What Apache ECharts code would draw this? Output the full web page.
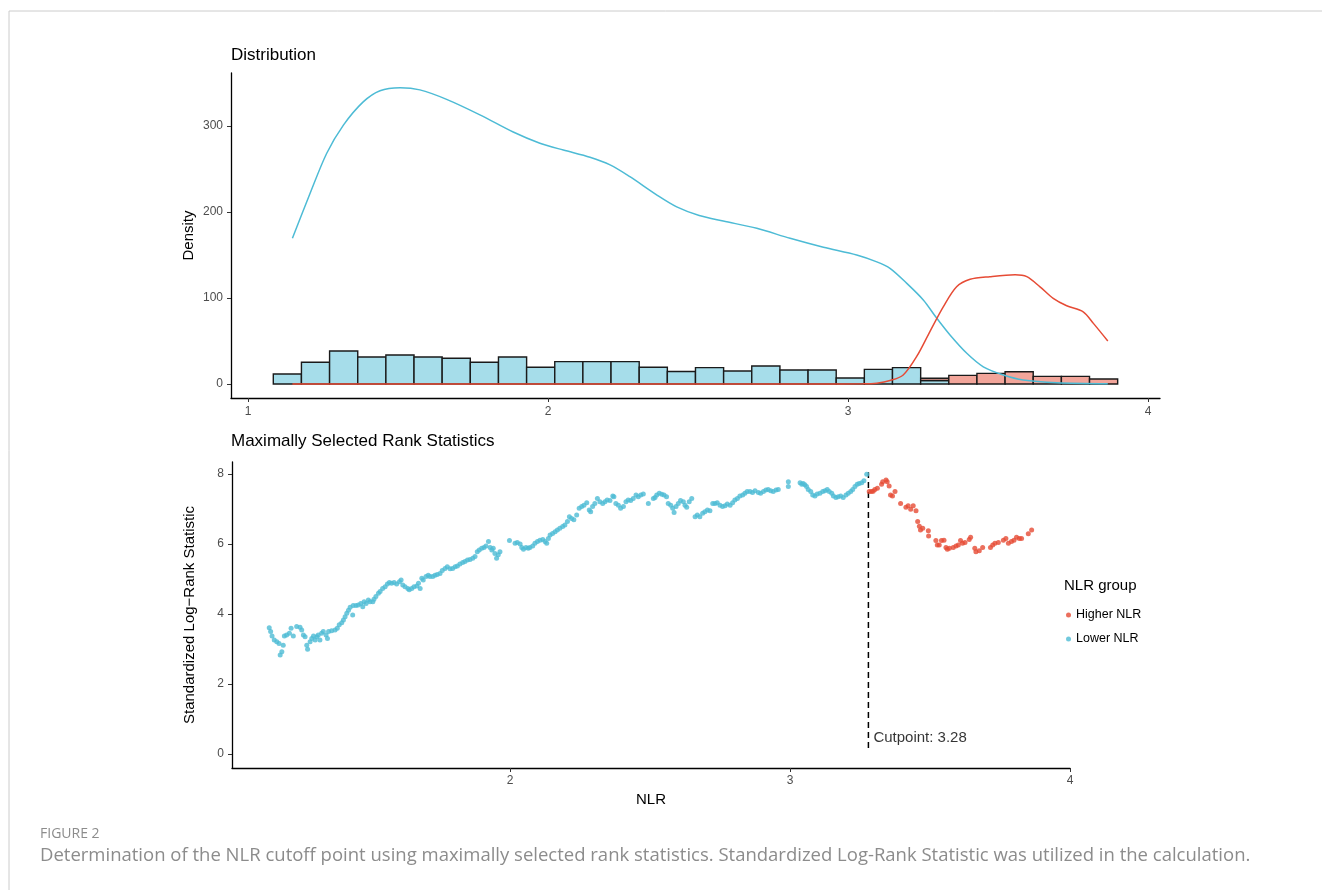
<!DOCTYPE html>
<html>
<head>
<meta charset="utf-8">
<script src="https://cdn.jsdelivr.net/npm/echarts@6/dist/echarts.min.js"></script>
<style>
html,body{margin:0;padding:0;background:#fff;}
#chart{width:1322px;height:890px;}
</style>
</head>
<body>
<div id="chart"></div>
<script>
// ---------- DATA ----------
const binEdges = [1.0843,1.1781,1.2719,1.3658,1.4596,1.5534,1.6472,1.7410,1.8349,1.9287,2.0225,2.1163,2.2101,2.3040,2.3978,2.4916,2.5854,2.6792,2.7731,2.8669,2.9607,3.0545,3.1483,3.2422,3.3360,3.4298,3.5236,3.6174,3.7113,3.8051,3.8989];
const lowerHist  = [11.6,25.2,38.4,31.4,33.7,31.4,29.9,25.2,31.4,19.4,26,26,26,19.4,14.5,19,15.1,20.9,16.3,16.3,7,17,19,4,0,0,0,0,0,0];
const higherHist = [0,0,0,0,0,0,0,0,0,0,0,0,0,0,0,0,0,0,0,0,0,0,0,2.6,10,12.4,14.3,8.9,8.9,5.8];

const lowerDensity = [[1.148,169.4],[1.207,221.7],[1.262,268],[1.318,301],[1.384,328],[1.44,341],[1.507,344.5],[1.573,342],[1.662,331],[1.773,313],[1.884,293],[1.973,280],[2.051,272],[2.14,263.6],[2.207,254.7],[2.273,241],[2.362,220],[2.429,206],[2.504,196],[2.584,189.5],[2.696,181],[2.807,169.4],[2.918,159],[3.029,150],[3.096,142],[3.14,134.5],[3.196,117],[3.251,97.7],[3.296,76.4],[3.34,57],[3.396,35.7],[3.451,20],[3.518,10.5],[3.584,4.7],[3.696,1.5],[3.866,0.3]];
const higherDensity = [[1.148,0],[2.0,0],[2.9,0],[3.05,0.2],[3.096,1],[3.14,4],[3.184,10.5],[3.229,32],[3.273,61],[3.318,90],[3.362,113],[3.407,121.7],[3.473,124.8],[3.557,127],[3.596,124.8],[3.64,113],[3.684,99.6],[3.729,91],[3.784,84],[3.818,70.5],[3.866,50]];

const lowerStat = [[1.140,3.61],[1.145,3.50],[1.150,3.37],[1.158,3.26],[1.167,3.21],[1.175,3.16],[1.179,2.83],[1.185,2.92],[1.190,3.11],[1.194,3.37],[1.202,3.40],[1.212,3.45],[1.218,3.59],[1.226,3.37],[1.238,3.64],[1.250,3.62],[1.256,3.54],[1.262,3.40],[1.268,3.35],[1.274,3.11],[1.277,2.99],[1.286,3.21],[1.292,3.30],[1.298,3.37],[1.304,3.26],[1.310,3.35],[1.315,3.40],[1.321,3.26],[1.327,3.45],[1.333,3.50],[1.343,3.40],[1.348,3.30],[1.352,3.50],[1.363,3.52],[1.375,3.54],[1.383,3.59],[1.390,3.69],[1.399,3.75],[1.405,3.83],[1.411,3.92],[1.417,4.02],[1.423,4.11],[1.429,4.19],[1.438,3.97],[1.440,4.24],[1.450,4.24],[1.458,4.26],[1.467,4.30],[1.474,4.21],[1.479,4.35],[1.486,4.30],[1.494,4.40],[1.500,4.35],[1.510,4.35],[1.514,4.42],[1.521,4.50],[1.530,4.59],[1.536,4.64],[1.545,4.73],[1.554,4.78],[1.562,4.86],[1.569,4.90],[1.577,4.88],[1.586,4.90],[1.595,4.86],[1.605,4.92],[1.611,4.97],[1.617,4.83],[1.625,4.78],[1.635,4.73],[1.640,4.69],[1.649,4.73],[1.657,4.78],[1.667,4.80],[1.673,4.88],[1.679,4.73],[1.685,5.02],[1.690,4.97],[1.700,5.07],[1.708,5.11],[1.714,5.07],[1.724,5.07],[1.732,5.11],[1.740,5.13],[1.750,5.16],[1.758,5.24],[1.768,5.30],[1.776,5.35],[1.786,5.29],[1.795,5.30],[1.804,5.35],[1.812,5.37],[1.821,5.43],[1.831,5.47],[1.839,5.50],[1.848,5.54],[1.857,5.56],[1.867,5.59],[1.875,5.64],[1.883,5.78],[1.890,5.83],[1.899,5.88],[1.907,5.90],[1.914,5.94],[1.923,6.07],[1.929,5.90],[1.935,5.83],[1.940,5.88],[1.946,5.73],[1.952,5.59],[1.958,5.69],[1.964,5.78],[1.998,6.10],[2.018,6.02],[2.026,6.04],[2.036,6.00],[2.042,5.90],[2.048,5.85],[2.057,5.90],[2.065,5.88],[2.071,5.90],[2.081,5.94],[2.089,6.02],[2.098,6.07],[2.107,6.11],[2.117,6.13],[2.125,6.07],[2.131,6.02],[2.137,6.16],[2.143,6.26],[2.152,6.30],[2.161,6.35],[2.169,6.40],[2.178,6.45],[2.188,6.50],[2.196,6.54],[2.205,6.64],[2.212,6.78],[2.220,6.73],[2.228,6.69],[2.238,6.83],[2.247,7.02],[2.256,7.07],[2.264,7.11],[2.274,7.18],[2.283,6.97],[2.288,6.92],[2.295,7.07],[2.303,7.16],[2.312,7.30],[2.321,7.21],[2.331,7.16],[2.339,7.21],[2.347,7.26],[2.357,7.24],[2.367,7.37],[2.371,7.35],[2.378,7.16],[2.387,7.11],[2.395,7.02],[2.405,7.07],[2.414,7.21],[2.422,7.26],[2.431,7.24],[2.440,7.30],[2.450,7.40],[2.458,7.35],[2.467,7.40],[2.476,7.43],[2.494,7.16],[2.512,7.30],[2.518,7.33],[2.524,7.40],[2.533,7.45],[2.542,7.42],[2.550,7.40],[2.559,7.35],[2.565,7.16],[2.574,7.11],[2.581,7.02],[2.586,6.90],[2.593,7.07],[2.601,7.16],[2.609,7.24],[2.619,7.21],[2.625,7.11],[2.631,7.05],[2.640,7.21],[2.649,7.30],[2.661,6.78],[2.669,6.83],[2.678,6.78],[2.688,6.88],[2.696,6.92],[2.705,6.97],[2.714,6.95],[2.724,7.16],[2.732,7.16],[2.740,7.18],[2.750,7.11],[2.759,7.07],[2.768,7.09],[2.776,7.14],[2.786,7.11],[2.795,7.18],[2.803,7.26],[2.812,7.30],[2.821,7.37],[2.831,7.40],[2.839,7.45],[2.847,7.50],[2.857,7.50],[2.866,7.47],[2.875,7.52],[2.887,7.47],[2.895,7.45],[2.905,7.50],[2.914,7.54],[2.922,7.56],[2.931,7.52],[2.940,7.50],[2.950,7.54],[2.958,7.56],[2.994,7.78],[2.994,7.64],[3.036,7.75],[3.042,7.71],[3.047,7.73],[3.053,7.69],[3.059,7.64],[3.065,7.56],[3.074,7.50],[3.081,7.40],[3.089,7.37],[3.097,7.43],[3.107,7.45],[3.117,7.50],[3.125,7.52],[3.133,7.56],[3.140,7.50],[3.149,7.45],[3.155,7.37],[3.164,7.33],[3.172,7.35],[3.181,7.37],[3.190,7.33],[3.200,7.40],[3.208,7.45],[3.217,7.50],[3.224,7.56],[3.232,7.64],[3.240,7.71],[3.247,7.73],[3.256,7.75],[3.264,7.81],[3.274,7.99]];
const higherStat = [[3.283,7.50],[3.291,7.50],[3.297,7.51],[3.303,7.56],[3.312,7.59],[3.327,7.71],[3.331,7.78],[3.343,7.83],[3.347,7.78],[3.354,7.66],[3.359,7.40],[3.366,7.37],[3.375,7.50],[3.395,7.16],[3.414,7.05],[3.422,7.09],[3.431,6.99],[3.440,7.09],[3.450,6.95],[3.456,6.64],[3.462,6.51],[3.466,6.40],[3.474,6.45],[3.494,6.38],[3.495,6.23],[3.521,6.10],[3.526,5.97],[3.533,5.97],[3.541,6.10],[3.550,6.11],[3.557,5.90],[3.562,5.85],[3.569,5.88],[3.583,5.90],[3.593,5.94],[3.601,5.97],[3.609,6.10],[3.616,6.02],[3.625,6.04],[3.640,6.13],[3.645,6.19],[3.660,5.88],[3.664,5.78],[3.676,5.81],[3.688,5.90],[3.716,5.90],[3.724,5.97],[3.732,6.02],[3.744,6.04],[3.762,6.11],[3.771,6.16],[3.780,6.02],[3.791,6.07],[3.800,6.11],[3.809,6.19],[3.819,6.16],[3.827,6.16],[3.851,6.29],[3.863,6.40]];

const cutpoint = 3.28;
const cutLine = [[3.28,0.17],[3.28,8.05]];
const topXTicks = [1,2,3,4];
const topYTicks = [0,100,200,300];
const botXTicks = [2,3,4];
const botYTicks = [0,2,4,6,8];

// ---------- CHART ----------
const BLUE = '#4DBBD5', RED = '#E64B35';
const FONT = '"Liberation Sans", Arial, sans-serif';
const CAPFONT = '"Open Sans", sans-serif';

const lowerBars = [], higherBars = [];
for (let i = 0; i < lowerHist.length; i++) {
  if (lowerHist[i] > 0) lowerBars.push([binEdges[i], binEdges[i+1], 0, lowerHist[i]]);
  if (higherHist[i] > 0) higherBars.push([binEdges[i], binEdges[i+1], lowerHist[i], lowerHist[i] + higherHist[i]]);
}
function barRenderer(fill) {
  return function (params, api) {
    const p0 = api.coord([api.value(0), api.value(3)]);
    const p1 = api.coord([api.value(1), api.value(2)]);
    return {
      type: 'rect',
      shape: { x: p0[0], y: p0[1], width: p1[0] - p0[0], height: p1[1] - p0[1] },
      style: { fill: fill, stroke: '#1a1a1a', lineWidth: 1.4 }
    };
  };
}

const axisLineStyle = { show: true, onZero: false, lineStyle: { color: '#000', width: 1.3 } };
const tickStyle = (vals) => ({ show: true, customValues: vals, length: 4, lineStyle: { color: '#333', width: 1 } });
const labelStyle = (vals, margin) => ({ customValues: vals, color: '#4D4D4D', fontSize: 12, fontFamily: FONT, margin: margin });

const chart = echarts.init(document.getElementById('chart'), null, { renderer: 'canvas' });
chart.setOption({
  animation: false,
  backgroundColor: '#fff',
  textStyle: { fontFamily: FONT },
  title: [
    { text: 'Distribution', left: 231, top: 47, padding: 0, textStyle: { fontSize: 17, fontWeight: 'normal', color: '#000', fontFamily: FONT } },
    { text: 'Maximally Selected Rank Statistics', left: 231, top: 433, padding: 0, textStyle: { fontSize: 17, fontWeight: 'normal', color: '#000', fontFamily: FONT } },
    { text: 'NLR group', left: 1064, top: 578, padding: 0, textStyle: { fontSize: 15, fontWeight: 'normal', color: '#000', fontFamily: FONT } },
    { text: 'FIGURE 2', left: 40, top: 827, padding: 0, textStyle: { fontSize: 14, fontWeight: 'normal', color: '#8c8c8c', fontFamily: CAPFONT } },
    { text: 'Determination of the NLR cutoff point using maximally selected rank statistics. Standardized Log-Rank Statistic was utilized in the calculation.', left: 40, top: 846, padding: 0, textStyle: { fontSize: 18.5, fontWeight: 'normal', color: '#8c8c8c', fontFamily: CAPFONT } }
  ],
  graphic: [
    { type: 'line', shape: { x1: 9, y1: 11, x2: 1322, y2: 11 }, style: { stroke: '#cccccc', lineWidth: 1 } },
    { type: 'line', shape: { x1: 9, y1: 11, x2: 9, y2: 890 }, style: { stroke: '#cccccc', lineWidth: 1 } }
  ],
  legend: {
    data: ['Higher NLR', 'Lower NLR'],
    orient: 'vertical', left: 1066, top: 608, padding: 0,
    icon: 'circle', itemWidth: 5, itemHeight: 5, itemGap: 10,
    textStyle: { fontSize: 12.5, color: '#000', fontFamily: FONT, lineHeight: 14 },
    selectedMode: false
  },
  grid: [
    { left: 231, top: 73, width: 929, height: 325 },
    { left: 232, top: 462, width: 838, height: 306 }
  ],
  xAxis: [
    { type: 'value', gridIndex: 0, min: 0.9433, max: 4.04, axisLine: axisLineStyle, axisTick: tickStyle(topXTicks), axisLabel: labelStyle(topXTicks, 8), splitLine: { show: false } },
    { type: 'value', gridIndex: 1, min: 1.007, max: 4.0, axisLine: axisLineStyle, axisTick: tickStyle(botXTicks), axisLabel: labelStyle(botXTicks, 7), splitLine: { show: false },
      name: 'NLR', nameLocation: 'middle', nameGap: 24, nameTextStyle: { fontSize: 15, color: '#000', fontFamily: FONT } }
  ],
  yAxis: [
    { type: 'value', gridIndex: 0, min: -16.28, max: 361.6, axisLine: axisLineStyle, axisTick: tickStyle(topYTicks), axisLabel: labelStyle(topYTicks, 8), splitLine: { show: false },
      name: 'Density', nameLocation: 'middle', nameGap: 35, nameMoveOverlap: false, nameTextStyle: { fontSize: 15, color: '#000', fontFamily: FONT } },
    { type: 'value', gridIndex: 1, min: -0.4, max: 8.343, axisLine: axisLineStyle, axisTick: tickStyle(botYTicks), axisLabel: labelStyle(botYTicks, 8), splitLine: { show: false },
      name: 'Standardized Log\u2212Rank Statistic', nameLocation: 'middle', nameGap: 35, nameMoveOverlap: false, nameTextStyle: { fontSize: 15, color: '#000', fontFamily: FONT } }
  ],
  series: [
    { type: 'custom', name: 'lowerHist', xAxisIndex: 0, yAxisIndex: 0, z: 1, renderItem: barRenderer('#A6DDEA'), encode: { x: [0, 1], y: [2, 3] }, data: lowerBars, silent: true },
    { type: 'custom', name: 'higherHist', xAxisIndex: 0, yAxisIndex: 0, z: 1, renderItem: barRenderer('#F2A59A'), encode: { x: [0, 1], y: [2, 3] }, data: higherBars, silent: true },
    { type: 'line', name: 'lowerDensity', xAxisIndex: 0, yAxisIndex: 0, z: 3, data: lowerDensity, smooth: 0.3, showSymbol: false, symbol: 'none', lineStyle: { color: BLUE, width: 1.5 } },
    { type: 'line', name: 'higherDensity', xAxisIndex: 0, yAxisIndex: 0, z: 3, data: higherDensity, smooth: 0.3, showSymbol: false, symbol: 'none', lineStyle: { color: RED, width: 1.5 } },
    { type: 'line', name: 'cut', xAxisIndex: 1, yAxisIndex: 1, z: 2, data: cutLine, symbol: 'none', lineStyle: { color: '#000', width: 1.5, type: [6, 4] } },
    { type: 'scatter', name: 'Lower NLR', xAxisIndex: 1, yAxisIndex: 1, z: 4, data: lowerStat, symbol: 'circle', symbolSize: 5, itemStyle: { color: BLUE } },
    { type: 'scatter', name: 'Higher NLR', xAxisIndex: 1, yAxisIndex: 1, z: 4, data: higherStat, symbol: 'circle', symbolSize: 5, itemStyle: { color: RED } },
    { type: 'scatter', name: 'cutLabel', xAxisIndex: 1, yAxisIndex: 1, z: 5, data: [[cutpoint, 0.47]], symbolSize: 0, silent: true,
      label: { show: true, position: 'right', distance: 5, formatter: 'Cutpoint: ' + cutpoint, fontSize: 15, color: '#000', fontFamily: FONT } }
  ]
});
</script>
</body>
</html>
